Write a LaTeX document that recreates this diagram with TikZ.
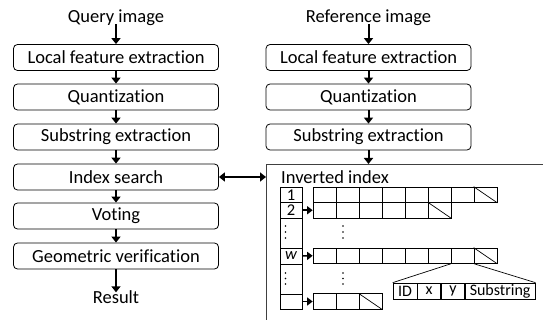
\documentclass[tikz,border=0pt]{standalone}
\usepackage{fontspec}
\setmainfont{Carlito}[Ligatures={NoCommon}]
\usetikzlibrary{arrows.meta}
\begin{document}
\begin{tikzpicture}[x=1pt,y=-1pt,
  stage/.style={draw,rounded corners=4pt,line width=0.8pt,minimum width=205pt,minimum height=26pt,inner sep=0pt,font=\fontsize{18.5}{20}\selectfont},
  lbl/.style={inner sep=0pt,font=\fontsize{18.5}{20}\selectfont},
  flow/.style={line width=2pt,-{Triangle[length=6pt,width=9pt]}},
  cell/.style={draw,line width=0.7pt,minimum width=23pt,minimum height=15.5pt,inner sep=0pt,font=\fontsize{16}{17}\selectfont},
  idx/.style={draw,line width=0.7pt,minimum width=22pt,inner sep=0pt,font=\fontsize{16.5}{17}\selectfont},
  ptr/.style={line width=1.5pt,-{Triangle[length=5.5pt,width=8pt]}}]
\useasboundingbox (0,0) rectangle (543,320);

% query pipeline
\node[lbl] (qi) at (116,18) {Query image};
\node[stage] (q1) at (116,57.5) {Local feature extraction};
\node[stage] (q2) at (116,97) {Quantization};
\node[stage] (q3) at (116,137) {Substring extraction};
\node[stage] (q4) at (116,177) {Index search};
\node[stage] (q5) at (116,216) {Voting};
\node[stage] (q6) at (116,256) {Geometric verification};
\node[lbl] (qr) at (116,297) {Result};
\draw[flow] ([yshift=2pt]qi.south) -- (q1.north);
\foreach \a/\b in {q1/q2,q2/q3,q3/q4,q4/q5,q5/q6}
  \draw[flow] (\a.south) -- (\b.north);
\draw[flow] (q6.south) -- ([yshift=-2pt]qr.north);

% reference pipeline
\node[lbl] (ri) at (368.5,18) {Reference image};
\node[stage] (r1) at (368.5,57.5) {Local feature extraction};
\node[stage] (r2) at (368.5,97) {Quantization};
\node[stage] (r3) at (368.5,137) {Substring extraction};
\draw[flow] ([yshift=2pt]ri.south) -- (r1.north);
\foreach \a/\b in {r1/r2,r2/r3}
  \draw[flow] (\a.south) -- (\b.north);

% inverted index frame
\coordinate (ft) at (368.5,164);
\coordinate (fl) at (266,177);
\draw[line width=0.8pt,black!75] (543,164) -- (266,164) -- (266,320);
\draw[flow] (r3.south) -- (ft);
\draw[line width=2pt,{Triangle[length=6pt,width=9pt]}-{Triangle[length=6pt,width=9pt]}] (q4.east) -- (fl);
\node[lbl,anchor=west] (title) at (281,177) {Inverted index};

% index column
\node[idx,minimum height=15.5pt] (i1) at (291,194.75) {1};
\node[idx,minimum height=15.5pt] (i2) at (291,210.25) {2};
\node[idx,minimum height=30pt] (i3) at (291,233) {};
\node[idx,minimum height=16pt] (iw) at (291,256) {\itshape w};
\node[idx,minimum height=30pt] (i5) at (291,279) {};
\node[idx,minimum height=15pt] (i6) at (291,301.5) {};
\foreach \yy in {226,232,238,273,278.5,284}
  \fill (285.5,\yy) circle (0.9pt);

% posting lists
\foreach \r/\yy/\n in {a/194.75/8,b/210.25/6,w/255.75/8,z/301.5/3}{
  \foreach \c in {1,...,\n}
    \node[cell] (\r\c) at (313+23*\c-11.5,\yy) {};
  \draw[line width=0.7pt] (\r\n.north west) -- (\r\n.south east);
}
\foreach \yy in {226,232,238,273,278.5,284}
  \fill (343,\yy) circle (0.9pt);
\draw[ptr] (i2.east) -- (b1.west);
\draw[ptr] (iw.east) -- (w1.west);
\draw[ptr] (i6.east) -- (z1.west);

% posting entry layout
\node[cell,minimum width=24pt,minimum height=16pt] (eid) at (405,291) {ID};
\node[cell,minimum width=23pt,minimum height=16pt,anchor=west] (ex) at (eid.east) {x};
\node[cell,minimum width=23pt,minimum height=16pt,anchor=west] (ey) at (ex.east) {y};
\node[cell,minimum width=70pt,minimum height=16pt,anchor=west] (es) at (ey.east) {Substring};
\draw[line width=0.7pt] (w7.south west) -- (eid.north west);
\draw[line width=0.7pt] (w7.south east) -- (es.north east);
\end{tikzpicture}
\end{document}
